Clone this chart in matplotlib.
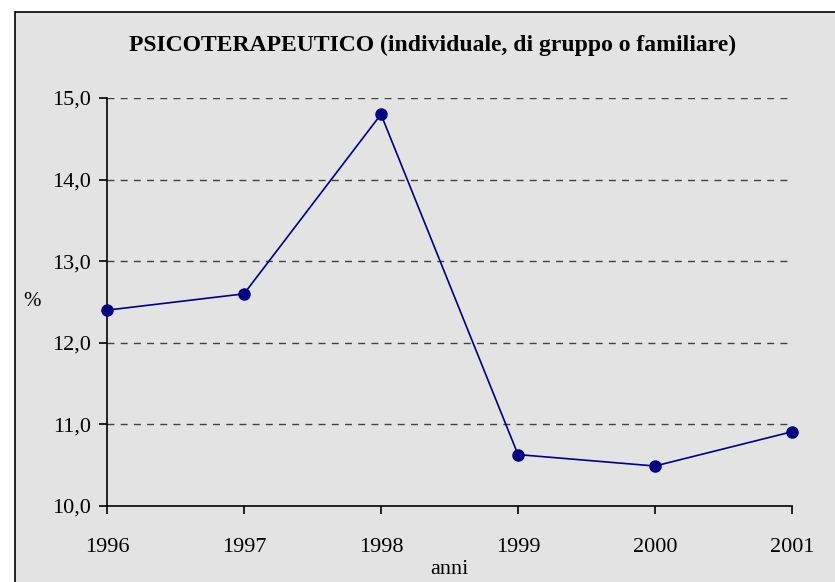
import matplotlib
matplotlib.use("Agg")
import matplotlib.pyplot as plt
from matplotlib.patches import Rectangle

years = ["1996", "1997", "1998", "1999", "2000", "2001"]
values = [12.4, 12.6, 14.8, 10.63, 10.49, 10.91]
yticks = [10.0, 11.0, 12.0, 13.0, 14.0, 15.0]
ytick_labels = ["10,0", "11,0", "12,0", "13,0", "14,0", "15,0"]
title = "PSICOTERAPEUTICO (individuale, di gruppo o familiare)"

plt.rcParams['font.family'] = ['Liberation Serif', 'DejaVu Serif']

W, H = 835, 582
fig = plt.figure(figsize=(W / 100, H / 100), dpi=100)
fig.patch.set_facecolor('white')
bg = '#E3E3E3'
fig.patches.append(Rectangle((15 / W, -0.05), 1.1, 1 - 12 / H + 0.05,
                             transform=fig.transFigure, facecolor=bg,
                             edgecolor='black', linewidth=1.2, zorder=-5))

ax = fig.add_axes([107 / W, 1 - 506 / H, (792 - 107) / W, (506 - 98) / H])
ax.set_zorder(2)
ax.set_facecolor('none')
x = list(range(len(years)))
ax.plot(x, values, color='#000080', linewidth=1.2, marker='o',
        markersize=8, markerfacecolor='#000080', markeredgecolor='#000080',
        zorder=3, clip_on=False)

ax.set_xlim(0, len(years) - 1)
ax.set_ylim(10.0, 15.0)
ax.set_yticks(yticks)
ax.set_yticklabels(ytick_labels)
ax.set_xticks(x)
ax.set_xticklabels(years)

for yv in yticks[1:]:
    ax.axhline(yv, color='#404040', linewidth=1.0, linestyle=(0, (5, 4.5)), zorder=1)

for s in ['top', 'right']:
    ax.spines[s].set_visible(False)
for s in ['left', 'bottom']:
    ax.spines[s].set_color('black')
    ax.spines[s].set_linewidth(1.2)

ax.tick_params(axis='y', direction='out', length=6, width=1.2, labelsize=16, pad=5.5)
ax.tick_params(axis='x', direction='out', length=6, width=1.2, labelsize=16, pad=17)

fig.text(449 / W, 1 - 569 / H, "anni", fontsize=16, ha='center', va='center')
fig.text(32 / W, 1 - 302 / H, "%", fontsize=15, ha='center', va='center')
fig.text(433 / W, 1 - 45 / H, title, fontsize=17, fontweight='bold',
         ha='center', va='center')

fig.savefig("out.png", dpi=100, facecolor=fig.get_facecolor())
